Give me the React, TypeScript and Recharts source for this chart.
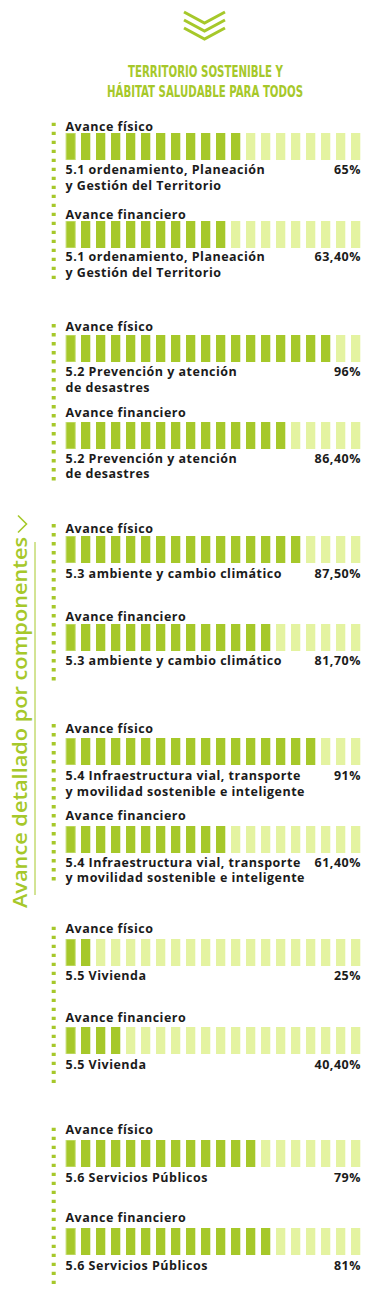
import React from "react";
import { BarChart, Bar, XAxis, YAxis, Cell } from "recharts";

// ---------- DATA ----------
const componentLabels: string[][] = [
  ["5.1 ordenamiento, Planeación", "y Gestión del Territorio"],
  ["5.2 Prevención y atención", "de desastres"],
  ["5.3 ambiente y cambio climático"],
  ["5.4 Infraestructura vial, transporte", "y movilidad sostenible e inteligente"],
  ["5.5 Vivienda"],
  ["5.6 Servicios Públicos"],
];
const seriesNames = ["Avance físico", "Avance financiero"];
const fisicoPct = ["65%", "96%", "87,50%", "91%", "25%", "79%"];
const financieroPct = ["63,40%", "86,40%", "81,70%", "61,40%", "40,40%", "81%"];
const fisicoFilled = [12, 18, 16, 17, 2, 13];
const financieroFilled = [11, 15, 14, 11, 4, 14];
const segmentIds = [
  "s1", "s2", "s3", "s4", "s5", "s6", "s7", "s8", "s9", "s10",
  "s11", "s12", "s13", "s14", "s15", "s16", "s17", "s18", "s19", "s20",
];
const titleLines = ["TERRITORIO SOSTENIBLE Y", "HÁBITAT SALUDABLE PARA TODOS"];
const sideTitle = "Avance detallado por componentes";

// ---------- LAYOUT / STYLE ----------
const GREEN = "#a6c82a";
const LIGHT = "#e4f3a1";
const FIRST_STROKE = "#cfe389";
const TEXT = "#1b1b1b";
const FONT = "'Open Sans', 'Noto Sans', sans-serif";
const TITLE_FONT = "'Liberation Sans Narrow', 'DejaVu Sans Condensed', sans-serif";

// per row: title baseline, bar top, label baseline (rows ordered fisico, financiero per component)
const rowLayout = [
  { title: 130.7, bar: 132.7, label: 174.3 },
  { title: 219, bar: 220.7, label: 261 },
  { title: 330.7, bar: 335, label: 376 },
  { title: 417.3, bar: 422.3, label: 462.7 },
  { title: 532.7, bar: 536, label: 577.7 },
  { title: 621, bar: 624, label: 665 },
  { title: 732.7, bar: 738.3, label: 780 },
  { title: 820, bar: 826, label: 866.7 },
  { title: 933.3, bar: 939, label: 980 },
  { title: 1021.7, bar: 1027.3, label: 1069 },
  { title: 1134.3, bar: 1140, label: 1181.7 },
  { title: 1222.3, bar: 1228.3, label: 1270 },
];
const dotGroups = [
  [122.7, 281],
  [324, 481.5],
  [524, 683],
  [724, 883],
  [926.7, 1085],
  [1127.7, 1285],
];

const segmentData = segmentIds.map((id) => ({ id, full: 1 }));

function SegmentBar({ filled, top }: { filled: number; top: number }) {
  return (
    <div style={{ position: "absolute", left: 63, top, width: 300, height: 27 }}>
      <BarChart
        width={300}
        height={27}
        data={segmentData}
        margin={{ top: 0, right: 0, bottom: 0, left: 0 }}
        barCategoryGap={0}
      >
        <XAxis dataKey="id" type="category" hide />
        <YAxis type="number" domain={[0, 1]} hide />
        <Bar dataKey="full" barSize={9.3} isAnimationActive={false}>
          {segmentData.map((d, i) => (
            <Cell
              key={d.id}
              fill={i < filled ? GREEN : LIGHT}
              stroke={i === 0 ? FIRST_STROKE : "none"}
              strokeWidth={i === 0 ? 1 : 0}
            />
          ))}
        </Bar>
      </BarChart>
    </div>
  );
}

export default function App() {
  const rows: { name: string; pct: string; filled: number; label: string[] }[] = [];
  componentLabels.forEach((label, i) => {
    rows.push({ name: seriesNames[0], pct: fisicoPct[i], filled: fisicoFilled[i], label });
    rows.push({ name: seriesNames[1], pct: financieroPct[i], filled: financieroFilled[i], label });
  });

  return (
    <div
      style={{
        position: "absolute",
        left: 0,
        top: 0,
        width: 382,
        height: 1298,
        background: "#ffffff",
        overflow: "hidden",
      }}
    >
      <svg width={382} height={1298} style={{ position: "absolute", left: 0, top: 0 }}>
        {/* chevrons */}
        {[0, 8, 16].map((o) => (
          <polyline
            key={o}
            points={`184,${12 + o} 204.5,${23 + o} 225,${12 + o}`}
            fill="none"
            stroke={GREEN}
            strokeWidth={3}
          />
        ))}
        {/* title */}
        <text
          x={205.5}
          y={77.3}
          textAnchor="middle"
          fill={GREEN}
          fontFamily={TITLE_FONT}
          fontWeight={700}
          fontSize={15.5}
          textLength={155}
          lengthAdjust="spacingAndGlyphs"
        >
          {titleLines[0]}
        </text>
        <text
          x={205}
          y={96.7}
          textAnchor="middle"
          fill={GREEN}
          fontFamily={TITLE_FONT}
          fontWeight={700}
          fontSize={15.5}
          textLength={196}
          lengthAdjust="spacingAndGlyphs"
        >
          {titleLines[1]}
        </text>

        {/* side title */}
        <g transform="translate(27.3, 908) rotate(-90)">
          <text
            x={0}
            y={0}
            fill={GREEN}
            fontFamily={FONT}
            fontWeight={600}
            fontSize={19}
            textLength={371}
            lengthAdjust="spacingAndGlyphs"
          >
            {sideTitle}
          </text>
        </g>
        <polyline points="18,515.5 26.5,524 18,532.5" fill="none" stroke={GREEN} strokeWidth={1.6} />
        <line x1={35} y1={542} x2={35} y2={895} stroke={GREEN} strokeWidth={1} />

        {/* dotted lines */}
        {dotGroups.map(([a, b], i) => (
          <line
            key={i}
            x1={53.7}
            y1={a}
            x2={53.7}
            y2={b}
            stroke={GREEN}
            strokeWidth={4}
            strokeDasharray="3.4 5.6"
          />
        ))}

        {/* row texts */}
        {rows.map((r, i) => {
          const L = rowLayout[i];
          return (
            <g
              key={i}
              fontFamily={FONT}
              fontWeight={700}
              fontSize={12.5}
              letterSpacing={0.5}
              fill={TEXT}
            >
              <text x={65.5} y={L.title}>{r.name}</text>
              {r.label.map((line, j) => (
                <text key={j} x={65.5} y={L.label + j * 15.5}>
                  {line}
                </text>
              ))}
              <text x={361} y={L.label} textAnchor="end">
                {r.pct}
              </text>
            </g>
          );
        })}
      </svg>
      {rows.map((r, i) => (
        <SegmentBar key={i} filled={r.filled} top={rowLayout[i].bar} />
      ))}
    </div>
  );
}
